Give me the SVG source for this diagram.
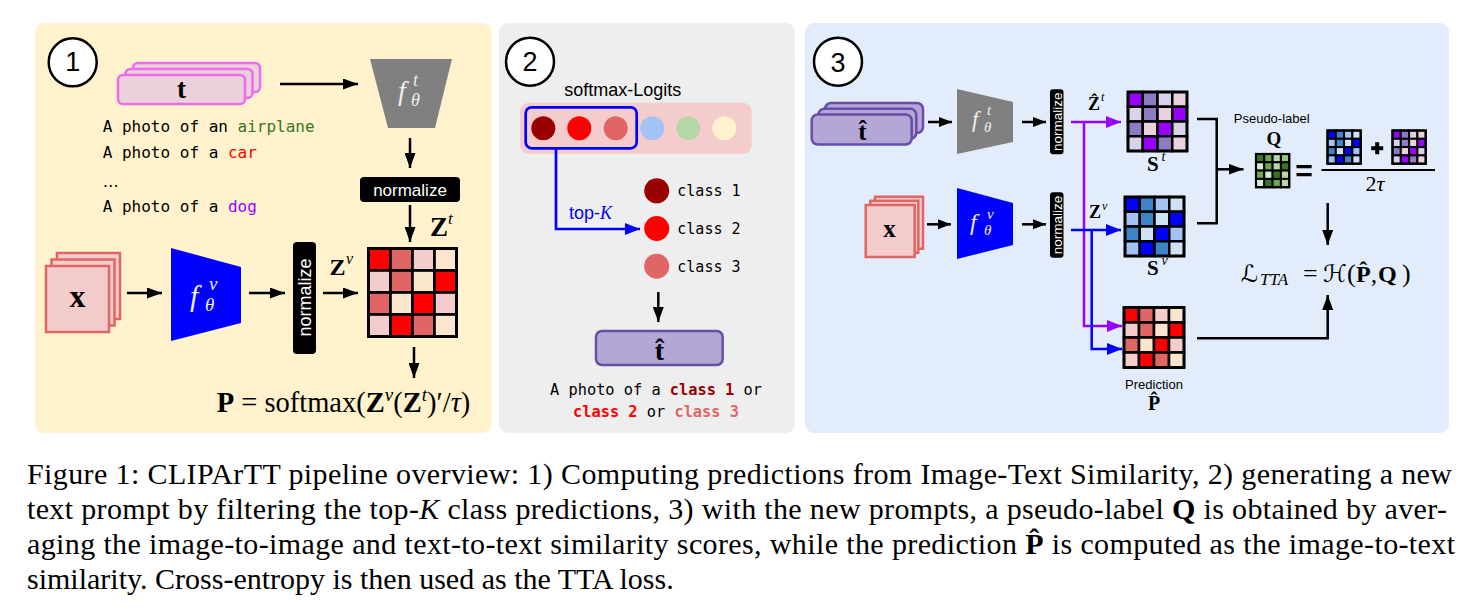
<svg xmlns="http://www.w3.org/2000/svg" width="1480" height="615" viewBox="0 0 1480 615">
<style>
.sans{font-family:'Liberation Sans',Arial,sans-serif}
.serif{font-family:'Liberation Serif','DejaVu Serif',serif}
.mono{font-family:'DejaVu Sans Mono',monospace}
.script{font-family:'DejaVu Serif','DejaVu Sans',serif}
.num{font-family:'Liberation Sans',Arial,sans-serif;font-size:27px;text-anchor:middle;fill:#000}
.badge{fill:#fff;stroke:#000;stroke-width:2.5}
.normt{fill:#fff;font-family:'Liberation Sans',Arial,sans-serif;text-anchor:middle}
.bf{font-weight:bold}
.it{font-style:italic}
.mid{text-anchor:middle}
.tbox{fill:#EAD1DC;stroke:#EC6CEC;stroke-width:2.5}
.xbox{fill:#F4CCCC;stroke:#E06666;stroke-width:2.5}
.thbox{fill:#B4A7D6;stroke:#674EA7;stroke-width:2.5}
.ftext{fill:#EEEEEE;font-family:'Liberation Serif','DejaVu Serif',serif;font-style:italic}
</style>
<defs>
<marker id="ah" viewBox="0 0 10 10" refX="10" refY="5" markerWidth="15" markerHeight="11" markerUnits="userSpaceOnUse" orient="auto" preserveAspectRatio="none"><path d="M0,0 L10,5 L0,10 z" fill="#000"/></marker>
<marker id="ahs" viewBox="0 0 10 10" refX="10" refY="5" markerWidth="13" markerHeight="10" markerUnits="userSpaceOnUse" orient="auto" preserveAspectRatio="none"><path d="M0,0 L10,5 L0,10 z" fill="#000"/></marker>
<marker id="ahb" viewBox="0 0 10 10" refX="10" refY="5" markerWidth="15" markerHeight="12" markerUnits="userSpaceOnUse" orient="auto" preserveAspectRatio="none"><path d="M0,0 L10,5 L0,10 z" fill="#0000FF"/></marker>
<marker id="ahp" viewBox="0 0 10 10" refX="10" refY="5" markerWidth="15" markerHeight="12" markerUnits="userSpaceOnUse" orient="auto" preserveAspectRatio="none"><path d="M0,0 L10,5 L0,10 z" fill="#9900FF"/></marker>
<g id="mRed" stroke="#000">
<rect x="0" y="0" width="10" height="10" fill="#FF0000"/><rect x="10" y="0" width="10" height="10" fill="#E06666"/><rect x="20" y="0" width="10" height="10" fill="#F4CCCC"/><rect x="30" y="0" width="10" height="10" fill="#FCE5CD"/>
<rect x="0" y="10" width="10" height="10" fill="#F4CCCC"/><rect x="10" y="10" width="10" height="10" fill="#E06666"/><rect x="20" y="10" width="10" height="10" fill="#FCE5CD"/><rect x="30" y="10" width="10" height="10" fill="#FF0000"/>
<rect x="0" y="20" width="10" height="10" fill="#E06666"/><rect x="10" y="20" width="10" height="10" fill="#FCE5CD"/><rect x="20" y="20" width="10" height="10" fill="#FF0000"/><rect x="30" y="20" width="10" height="10" fill="#F4CCCC"/>
<rect x="0" y="30" width="10" height="10" fill="#F4CCCC"/><rect x="10" y="30" width="10" height="10" fill="#FF0000"/><rect x="20" y="30" width="10" height="10" fill="#E06666"/><rect x="30" y="30" width="10" height="10" fill="#FCE5CD"/>
</g>
<g id="mPur" stroke="#000">
<rect x="0" y="0" width="10" height="10" fill="#9900FF"/><rect x="10" y="0" width="10" height="10" fill="#8E7CC3"/><rect x="20" y="0" width="10" height="10" fill="#D9D2E9"/><rect x="30" y="0" width="10" height="10" fill="#EAD1DC"/>
<rect x="0" y="10" width="10" height="10" fill="#D9D2E9"/><rect x="10" y="10" width="10" height="10" fill="#8E7CC3"/><rect x="20" y="10" width="10" height="10" fill="#EAD1DC"/><rect x="30" y="10" width="10" height="10" fill="#9900FF"/>
<rect x="0" y="20" width="10" height="10" fill="#8E7CC3"/><rect x="10" y="20" width="10" height="10" fill="#EAD1DC"/><rect x="20" y="20" width="10" height="10" fill="#9900FF"/><rect x="30" y="20" width="10" height="10" fill="#D9D2E9"/>
<rect x="0" y="30" width="10" height="10" fill="#D9D2E9"/><rect x="10" y="30" width="10" height="10" fill="#9900FF"/><rect x="20" y="30" width="10" height="10" fill="#8E7CC3"/><rect x="30" y="30" width="10" height="10" fill="#EAD1DC"/>
</g>
<g id="mBlu" stroke="#000">
<rect x="0" y="0" width="10" height="10" fill="#0000FF"/><rect x="10" y="0" width="10" height="10" fill="#3D85C6"/><rect x="20" y="0" width="10" height="10" fill="#A4C2F4"/><rect x="30" y="0" width="10" height="10" fill="#CFE2F3"/>
<rect x="0" y="10" width="10" height="10" fill="#A4C2F4"/><rect x="10" y="10" width="10" height="10" fill="#3D85C6"/><rect x="20" y="10" width="10" height="10" fill="#CFE2F3"/><rect x="30" y="10" width="10" height="10" fill="#0000FF"/>
<rect x="0" y="20" width="10" height="10" fill="#3D85C6"/><rect x="10" y="20" width="10" height="10" fill="#CFE2F3"/><rect x="20" y="20" width="10" height="10" fill="#0000FF"/><rect x="30" y="20" width="10" height="10" fill="#A4C2F4"/>
<rect x="0" y="30" width="10" height="10" fill="#A4C2F4"/><rect x="10" y="30" width="10" height="10" fill="#0000FF"/><rect x="20" y="30" width="10" height="10" fill="#3D85C6"/><rect x="30" y="30" width="10" height="10" fill="#CFE2F3"/>
</g>
<g id="mGrn" stroke="#000">
<rect x="0" y="0" width="10" height="10" fill="#38761D"/><rect x="10" y="0" width="10" height="10" fill="#6AA84F"/><rect x="20" y="0" width="10" height="10" fill="#B6D7A8"/><rect x="30" y="0" width="10" height="10" fill="#93C47D"/>
<rect x="0" y="10" width="10" height="10" fill="#D9EAD3"/><rect x="10" y="10" width="10" height="10" fill="#6AA84F"/><rect x="20" y="10" width="10" height="10" fill="#B6D7A8"/><rect x="30" y="10" width="10" height="10" fill="#38761D"/>
<rect x="0" y="20" width="10" height="10" fill="#6AA84F"/><rect x="10" y="20" width="10" height="10" fill="#D9EAD3"/><rect x="20" y="20" width="10" height="10" fill="#38761D"/><rect x="30" y="20" width="10" height="10" fill="#B6D7A8"/>
<rect x="0" y="30" width="10" height="10" fill="#D9EAD3"/><rect x="10" y="30" width="10" height="10" fill="#38761D"/><rect x="20" y="30" width="10" height="10" fill="#6AA84F"/><rect x="30" y="30" width="10" height="10" fill="#B6D7A8"/>
</g>
</defs>

<rect width="1480" height="615" fill="#fff"/>

<!-- panels -->
<g id="panel1"><rect x="35" y="23" width="457" height="410" rx="9" fill="#FFF2CC"/></g>
<g id="panel2"><rect x="499" y="23" width="296" height="410" rx="9" fill="#EEEEEE"/></g>
<g id="panel3"><rect x="805" y="23" width="644" height="410" rx="9" fill="#E3ECFB"/></g>

<!-- ===== Panel 1 ===== -->
<g id="badge1"><circle cx="72.7" cy="62.3" r="24" class="badge"/><text x="72.7" y="71" class="num">1</text></g>

<g id="p1-text-input">
<rect x="133" y="63" width="127" height="29" rx="5" class="tbox"/>
<rect x="125.5" y="69" width="127" height="29" rx="5" class="tbox"/>
<rect x="118" y="75" width="127" height="29" rx="5" class="tbox"/>
<text x="181.5" y="98" class="serif bf mid" font-size="27">t</text>
</g>

<g id="p1-prompts" class="mono" font-size="16">
<text x="102.7" y="131.7">A photo of an <tspan fill="#38761D">airplane</tspan></text>
<text x="102.7" y="158.3">A photo of a <tspan fill="#FF0000">car</tspan></text>
<text x="102.7" y="186.7" font-family="'DejaVu Sans',sans-serif">…</text>
<text x="102.7" y="211.7">A photo of a <tspan fill="#9900FF">dog</tspan></text>
</g>

<g id="p1-text-encoder">
<polygon points="370,59 452,59 435,128 388,128" fill="#808080"/>
<text x="398" y="100" class="ftext" font-size="28">f</text>
<text x="411" y="106" class="ftext" font-size="18">θ</text>
<text x="413" y="86" class="ftext" font-size="18">t</text>
</g>

<g id="p1-normalize-t">
<rect x="360" y="177" width="100" height="25" rx="4" fill="#000"/>
<text x="410" y="195.5" class="normt" font-size="17">normalize</text>
</g>

<g id="p1-image-input">
<rect x="57" y="253" width="63" height="66" class="xbox"/>
<rect x="51.5" y="259.5" width="63" height="66" class="xbox"/>
<rect x="46" y="266" width="63" height="66" class="xbox"/>
<text x="77.5" y="307" class="serif bf mid" font-size="32">x</text>
</g>

<g id="p1-image-encoder">
<polygon points="171,248 241,267 241,323 171,341" fill="#0000FF"/>
<text x="190" y="306" class="ftext" font-size="30">f</text>
<text x="205" y="311" class="ftext" font-size="19">θ</text>
<text x="209" y="290" class="ftext" font-size="19">v</text>
</g>

<g id="p1-normalize-v">
<rect x="293" y="242" width="23" height="112" rx="4" fill="#000"/>
<text transform="translate(304.5,297.5) rotate(-90)" x="0" y="6.3" class="normt" font-size="18">normalize</text>
</g>

<g id="p1-similarity">
<use href="#mRed" transform="translate(368.5,248.5) scale(2.2)" stroke-width="1.2"/>
<rect x="368.5" y="248.5" width="88" height="88" fill="none" stroke="#000" stroke-width="3"/>
</g>

<g id="p1-labels" class="serif">
<text x="430" y="236" class="bf" font-size="27">Z</text><text x="448" y="224" class="it" font-size="17">t</text>
<text x="329.5" y="275" class="bf" font-size="24">Z</text><text x="346" y="264" class="it" font-size="16">v</text>
<text x="216.7" y="412" font-size="28.5"><tspan class="bf">P</tspan> = softmax(<tspan class="bf">Z</tspan><tspan class="it" font-size="19" dy="-11">v</tspan><tspan dy="11">(</tspan><tspan class="bf">Z</tspan><tspan class="it" font-size="19" dy="-11">t</tspan><tspan dy="11">)′/</tspan><tspan class="it">τ</tspan>)</text>
</g>

<!-- ===== Panel 2 ===== -->
<g id="badge2"><circle cx="530" cy="61.7" r="24" class="badge"/><text x="530" y="70.7" class="num">2</text></g>

<g id="p2-logits">
<text x="564.3" y="96" class="sans" font-size="18">softmax-Logits</text>
<rect x="520" y="102.7" width="231.7" height="51.3" rx="9" fill="#F4CCCC"/>
<circle cx="543.3" cy="128.3" r="12" fill="#990000"/>
<circle cx="579.3" cy="128.3" r="12" fill="#FF0000"/>
<circle cx="615.7" cy="128.3" r="12" fill="#E06666"/>
<circle cx="652.3" cy="128.3" r="12" fill="#A4C2F4"/>
<circle cx="688.3" cy="128.3" r="12" fill="#B6D7A8"/>
<circle cx="724.3" cy="128.3" r="12" fill="#FFF2CC"/>
<rect x="525.7" y="107.3" width="111" height="41" rx="6" fill="none" stroke="#0000FF" stroke-width="2.7"/>
</g>

<g id="p2-topk" class="mono" font-size="15">
<circle cx="656.7" cy="190.8" r="12.5" fill="#990000"/>
<circle cx="656.7" cy="228.5" r="12.5" fill="#FF0000"/>
<circle cx="656.7" cy="266.2" r="12.5" fill="#E06666"/>
<text x="677.3" y="196">class 1</text>
<text x="677.3" y="234">class 2</text>
<text x="677.3" y="271.7">class 3</text>
</g>

<g id="p2-new-prompt">
<rect x="596" y="331" width="126.7" height="34" rx="6" class="thbox"/>
<text x="659.5" y="360" class="serif bf mid" font-size="28">t̂</text>
<text x="656" y="395" class="mono mid" font-size="15.3">A photo of a <tspan class="bf" fill="#990000">class 1</tspan> or</text>
<text x="656" y="416.7" class="mono mid" font-size="15.3"><tspan class="bf" fill="#FF0000">class 2</tspan> or <tspan class="bf" fill="#E06666">class 3</tspan></text>
</g>

<!-- ===== Panel 3 ===== -->
<g id="badge3"><circle cx="838" cy="61.7" r="24" class="badge"/><text x="838" y="71.5" class="num">3</text></g>

<g id="p3-text-input">
<rect x="825" y="103" width="98" height="30" rx="6" class="thbox"/>
<rect x="818.3" y="108.8" width="98" height="30" rx="6" class="thbox"/>
<rect x="811.7" y="114.5" width="100" height="30" rx="6" class="thbox"/>
<text x="862.5" y="140" class="serif bf mid" font-size="25">t̂</text>
</g>

<g id="p3-text-encoder">
<polygon points="957,89 1013,102 1013,142 957,154" fill="#808080"/>
<text x="972" y="127" class="ftext" font-size="23">f</text>
<text x="984" y="131.5" class="ftext" font-size="15">θ</text>
<text x="987" y="115" class="ftext" font-size="15">t</text>
</g>

<g id="p3-normalize-t">
<rect x="1050" y="89.3" width="13.5" height="65" rx="3" fill="#000"/>
<text transform="translate(1056.7,121.8) rotate(-90)" x="0" y="4.8" class="normt" font-size="13.5">normalize</text>
</g>

<g id="p3-image-input">
<rect x="875" y="196.7" width="48" height="52" class="xbox"/>
<rect x="870.3" y="200.8" width="48" height="52" class="xbox"/>
<rect x="865.7" y="205" width="49" height="52" class="xbox"/>
<text x="889.5" y="236.7" class="serif bf mid" font-size="25">x</text>
</g>

<g id="p3-image-encoder">
<polygon points="957,188 1013,203 1013,245 957,259" fill="#0000FF"/>
<text x="970" y="230" class="ftext" font-size="24">f</text>
<text x="984" y="234.5" class="ftext" font-size="15">θ</text>
<text x="987" y="219" class="ftext" font-size="15">v</text>
</g>

<g id="p3-normalize-v">
<rect x="1050" y="192.3" width="13.5" height="65.4" rx="3" fill="#000"/>
<text transform="translate(1056.7,225) rotate(-90)" x="0" y="4.8" class="normt" font-size="13.5">normalize</text>
</g>

<g id="p3-St">
<use href="#mPur" transform="translate(1128,92) scale(1.475)" stroke-width="1.7"/>
<rect x="1128" y="92" width="59" height="59" fill="none" stroke="#000" stroke-width="2.7"/>
<text x="1147" y="170.5" class="serif bf" font-size="21">S</text><text x="1161.5" y="161" class="serif it" font-size="14">t</text>
</g>

<g id="p3-Sv">
<use href="#mBlu" transform="translate(1125,197) scale(1.475)" stroke-width="1.7"/>
<rect x="1125" y="197" width="59" height="59" fill="none" stroke="#000" stroke-width="2.7"/>
<text x="1147" y="274.5" class="serif bf" font-size="21">S</text><text x="1161.5" y="265" class="serif it" font-size="14">v</text>
</g>

<g id="p3-P">
<use href="#mRed" transform="translate(1124,307.5) scale(1.5)" stroke-width="1.7"/>
<rect x="1124" y="307.5" width="60" height="60" fill="none" stroke="#000" stroke-width="2.7"/>
<text x="1154" y="389" class="sans mid" font-size="13">Prediction</text>
<text x="1154" y="410" class="serif bf mid" font-size="20">P̂</text>
</g>

<g id="p3-labels" class="serif">
<text x="1088" y="110" class="bf" font-size="18">Ẑ</text>
<text x="1101" y="101" class="it" font-size="12">t</text>
<text x="1089" y="218.3" class="bf" font-size="18">Z</text>
<text x="1102" y="210" class="it" font-size="12">v</text>
</g>

<g id="p3-Q">
<text x="1271.7" y="123" class="sans mid" font-size="13">Pseudo-label</text>
<text x="1274" y="145" class="serif bf mid" font-size="19">Q</text>
<use href="#mGrn" transform="translate(1256,154) scale(0.83)" stroke-width="2.4"/>
<rect x="1256" y="154" width="33.2" height="33.2" fill="none" stroke="#000" stroke-width="2.2"/>
<text x="1304" y="181" class="sans bf mid" font-size="30">=</text>
</g>

<g id="p3-fraction">
<use href="#mBlu" transform="translate(1327.5,130.5) scale(0.83)" stroke-width="2.4"/>
<rect x="1327.5" y="130.5" width="33.2" height="33.2" fill="none" stroke="#000" stroke-width="2.2"/>
<path d="M1375.2,142.3 h4 v4 h4 v4 h-4 v4 h-4 v-4 h-4 v-4 h4 z" fill="#000"/>
<use href="#mPur" transform="translate(1392.5,130.5) scale(0.83)" stroke-width="2.4"/>
<rect x="1392.5" y="130.5" width="33.2" height="33.2" fill="none" stroke="#000" stroke-width="2.2"/>
<line x1="1321.5" y1="170" x2="1435" y2="170" stroke="#000" stroke-width="2"/>
<text x="1375" y="191" class="serif mid" font-size="22">2<tspan class="it">τ</tspan></text>
</g>

<g id="p3-loss" class="serif">
<text y="282" font-size="24"><tspan x="1241" class="script it">ℒ</tspan><tspan x="1260" class="it" font-size="17" dy="3">TTA</tspan><tspan x="1303" dy="-3" font-size="26">=</tspan><tspan x="1323" class="script it">ℋ</tspan><tspan x="1347" font-size="26">(</tspan><tspan x="1356" class="bf">P̂</tspan><tspan x="1371">,</tspan><tspan x="1378" class="bf">Q</tspan><tspan x="1402" font-size="26">)</tspan></text>
</g>

<!-- ===== Connectors ===== -->
<g id="connectors" fill="none" stroke-width="2.5">
<line x1="280" y1="84" x2="358" y2="84" stroke="#000" marker-end="url(#ah)"/>
<line x1="410" y1="138" x2="410" y2="168" stroke="#000" marker-end="url(#ah)"/>
<line x1="410" y1="205" x2="410" y2="242" stroke="#000" marker-end="url(#ah)"/>
<line x1="127" y1="293" x2="162" y2="293" stroke="#000" marker-end="url(#ah)"/>
<line x1="249" y1="293" x2="285" y2="293" stroke="#000" marker-end="url(#ah)"/>
<line x1="323" y1="293" x2="358" y2="293" stroke="#000" marker-end="url(#ah)"/>
<line x1="414" y1="347" x2="414" y2="378" stroke="#000" marker-end="url(#ah)"/>
<path d="M556,149 V229 H640" stroke="#0000FF" stroke-width="2.7" marker-end="url(#ahb)"/>
<line x1="658.3" y1="292" x2="658.3" y2="322" stroke="#000" marker-end="url(#ah)"/>
<line x1="928" y1="122" x2="952" y2="122" stroke="#000" marker-end="url(#ahs)"/>
<line x1="1022" y1="122" x2="1046" y2="122" stroke="#000" marker-end="url(#ahs)"/>
<line x1="927" y1="224.3" x2="951" y2="224.3" stroke="#000" marker-end="url(#ahs)"/>
<line x1="1022" y1="224.3" x2="1046" y2="224.3" stroke="#000" marker-end="url(#ahs)"/>
<path d="M1084,122 V326 H1122" stroke="#9900FF" marker-end="url(#ahp)"/>
<path d="M1091.7,230 V349 H1122" stroke="#0000FF" marker-end="url(#ahb)"/>
<line x1="1071" y1="122" x2="1121" y2="122" stroke="#9900FF" marker-end="url(#ahp)"/>
<line x1="1071" y1="230" x2="1121" y2="230" stroke="#0000FF" marker-end="url(#ahb)"/>
<path d="M1197,119 H1216.7 V223.3 H1197" stroke="#000"/>
<line x1="1216.7" y1="169.3" x2="1243.5" y2="169.3" stroke="#000" marker-end="url(#ah)"/>
<line x1="1327.7" y1="203" x2="1327.7" y2="245" stroke="#000" marker-end="url(#ah)"/>
<path d="M1197,338.3 H1327.7 V295" stroke="#000" marker-end="url(#ah)"/>
</g>
<text x="569" y="219" class="sans" font-size="18" fill="#0000FF">top-<tspan class="serif it">K</tspan></text>

<!-- ===== Caption ===== -->
<g id="caption" class="serif" font-size="30" fill="#000">
<text x="27" y="484" textLength="1425" lengthAdjust="spacing">Figure 1: CLIPArTT pipeline overview: 1) Computing predictions from Image-Text Similarity, 2) generating a new</text>
<text x="27" y="519" textLength="1420" lengthAdjust="spacing">text prompt by filtering the top-<tspan class="it">K</tspan> class predictions, 3) with the new prompts, a pseudo-label <tspan class="bf">Q</tspan> is obtained by aver-</text>
<text x="27" y="554" textLength="1428" lengthAdjust="spacing">aging the image-to-image and text-to-text similarity scores, while the prediction <tspan class="bf">P̂</tspan> is computed as the image-to-text</text>
<text x="27" y="589">similarity. Cross-entropy is then used as the TTA loss.</text>
</g>
</svg>
